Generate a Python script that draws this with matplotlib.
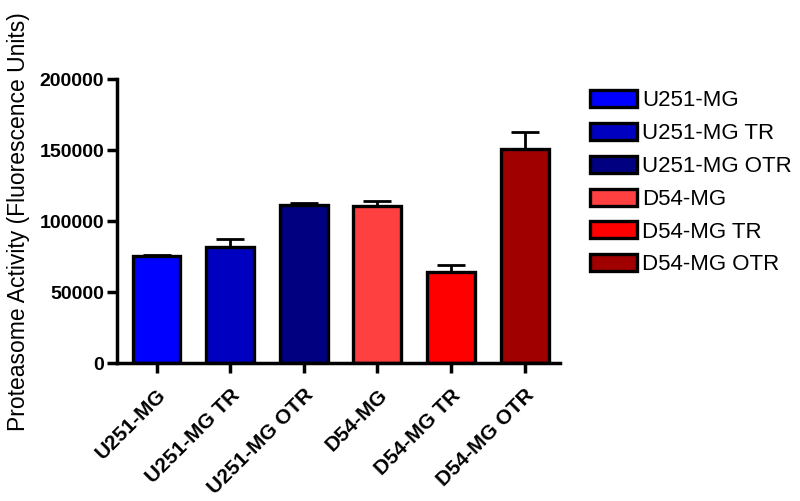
import numpy as np
import matplotlib.pyplot as plt

plt.rcParams['font.family'] = ['Liberation Sans', 'DejaVu Sans']

groups = ['U251-MG', 'U251-MG TR', 'U251-MG OTR', 'D54-MG', 'D54-MG TR', 'D54-MG OTR']
tick_labels = ['U251-MG', 'U251-MG TR', 'U251-MG OTR', 'D54-MG', 'D54-MG TR', 'D54-MG OTR']
activity = [75500, 82000, 111500, 110500, 64000, 150500]
sem = [1000, 5500, 1000, 4000, 5000, 12000]
colors = ['#0000FF', '#0000C0', '#000080', '#FF4040', '#FF0000', '#A00000']

fig = plt.figure(figsize=(8, 5.01), dpi=100)
ax = fig.add_axes([0.146, 0.275, 0.554, 0.567])

x = np.arange(len(groups))
bars = ax.bar(x, activity, width=0.65, color=colors, edgecolor='black', linewidth=2.4,
              label=groups, zorder=2)
ax.errorbar(x, activity, yerr=[np.zeros(len(sem)), sem], fmt='none', ecolor='black',
            elinewidth=2, capsize=10, capthick=2, zorder=1)

ax.set_xlim(-0.54, 5.48)
ax.set_ylim(0, 200000)
ax.set_yticks([0, 50000, 100000, 150000, 200000])
ax.set_xticks(x)
ax.set_xticklabels(tick_labels, rotation=45, ha='right', rotation_mode='anchor',
                   fontweight='bold', fontsize=15)
for lbl in ax.get_yticklabels():
    lbl.set_fontweight('bold')
    lbl.set_fontsize(14)

for side in ['top', 'right']:
    ax.spines[side].set_visible(False)
for side in ['left', 'bottom']:
    ax.spines[side].set_linewidth(2.5)
ax.tick_params(axis='both', width=2.5, length=7, direction='out', pad=2)
ax.tick_params(axis='x', pad=9)

ax.set_ylabel('Proteasome Activity (Fluorescence Units)', fontsize=16.5)
ax.yaxis.set_label_coords(-0.195, 0.5)

fig.legend(bars, groups, loc='upper left', bbox_to_anchor=(0.7375, 0.82),
           frameon=False, fontsize=16, handlelength=2.1, handleheight=0.8,
           handletextpad=0.25, labelspacing=0.52, borderpad=0, borderaxespad=0)

fig.savefig('out.png', dpi=100)
